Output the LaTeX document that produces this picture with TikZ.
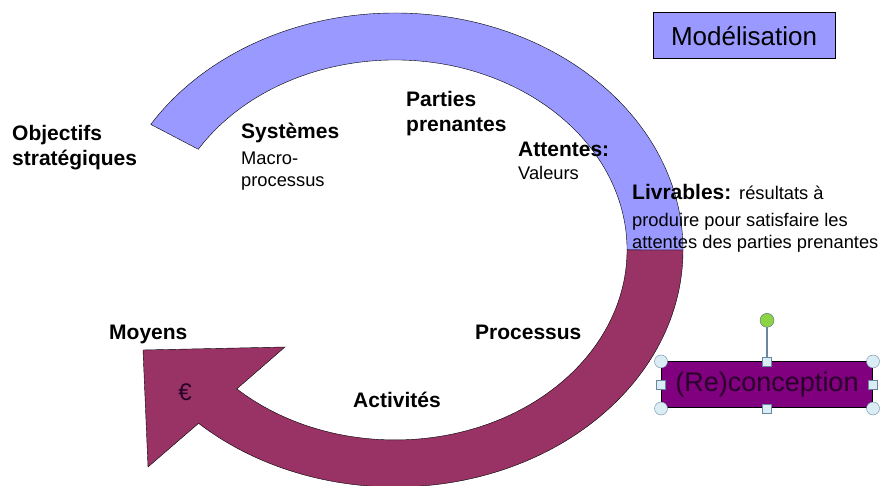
\documentclass[tikz,border=0pt]{standalone}
\usepackage{fontspec}
\setmainfont{Liberation Sans}
\usetikzlibrary{positioning}

\definecolor{bandblue}{RGB}{153,153,255}
\definecolor{bandplum}{RGB}{153,51,102}
\definecolor{boxpurple}{RGB}{128,0,128}
\definecolor{boxtext}{RGB}{40,0,40}
\definecolor{handlefill}{RGB}{218,236,244}
\definecolor{handleline}{RGB}{105,135,160}
\definecolor{rotgreen}{RGB}{140,212,70}

\begin{document}
\begin{tikzpicture}[x=1pt, y=1pt, node distance=10pt,
    bold/.style={font=\fontsize{21}{25}\selectfont\bfseries, inner sep=0pt, anchor=base west, align=left},
    plain/.style={font=\fontsize{18.3}{22}\selectfont, inner sep=0pt, anchor=base west, align=left},
    corner/.style={circle, draw=handleline, fill=handlefill, minimum size=13pt, inner sep=0pt},
    grip/.style={rectangle, draw=handleline, fill=handlefill, minimum size=9pt, inner sep=0pt}]
        \useasboundingbox (0,0) rectangle (880,486);

        \draw[fill=bandblue] (683,236) arc[start angle=0, end angle=148, x radius=288, y radius=237]
            -- (198.3,336.7) arc[start angle=148, end angle=0, x radius=232, y radius=190] -- cycle;
        \draw[fill=bandplum] (683,236) arc[start angle=0, end angle=-133, x radius=288, y radius=237]
            -- (148,19) -- (143,136) -- (285,139) -- (236.8,97.1)
            arc[start angle=-133, end angle=0, x radius=232, y radius=190] -- cycle;

        \node[bold]  (Obj) at (12,320)  {Objectifs\\stratégiques};
        \node[bold]  (Sys) at (241,347) {Systèmes};
        \node[plain] (Mac) at (241,299) {Macro-\\processus};
        \node[bold]  (Par) at (406,354) {Parties\\prenantes};
        \node[bold]  (Att) at (518,329) {Attentes:};
        \node[plain] (Val) at (518,306) {Valeurs};
        \node[bold]  (Liv) at (632,286) {Livrables: {\fontsize{18.3}{22}\selectfont\mdseries résultats à}};
        \node[plain] (Res) at (632,237) {produire pour satisfaire les\\attentes des parties prenantes};
        \node[bold]  (Moy) at (109,146) {Moyens};
        \node[bold]  (Pro) at (475,146) {Processus};
        \node[bold]  (Act) at (353,78)  {Activités};
        \node[font=\fontsize{24}{28}\selectfont, text=boxtext] (Eur) at (185,94) {€};

        \node[draw, line width=1pt, fill=bandblue, minimum width=182, minimum height=46,
              font=\fontsize{26}{30}\selectfont] (Mod) at (744,450) {Modélisation};

        \node[draw, line width=1pt, fill=boxpurple, text=boxtext, minimum width=211, minimum height=46,
              font=\fontsize{27}{30}\selectfont] (Rec) at (767,101) {(Re)conception};
        \node[circle, draw=handleline!80!black, fill=rotgreen, minimum size=14pt, inner sep=0pt,
              above=34pt of Rec.north] (Rot) {};
        \draw[handleline, line width=1.5pt] (Rot) -- (Rec.north);
        \node[corner] (C1) at (Rec.north west) {};
        \node[corner] (C2) at (Rec.north east) {};
        \node[corner] (C3) at (Rec.south west) {};
        \node[corner] (C4) at (Rec.south east) {};
        \node[grip] (G1) at (Rec.north) {};
        \node[grip] (G2) at (Rec.south) {};
        \node[grip] (G3) at (Rec.west) {};
        \node[grip] (G4) at (Rec.east) {};
      \end{tikzpicture}
\end{document}
